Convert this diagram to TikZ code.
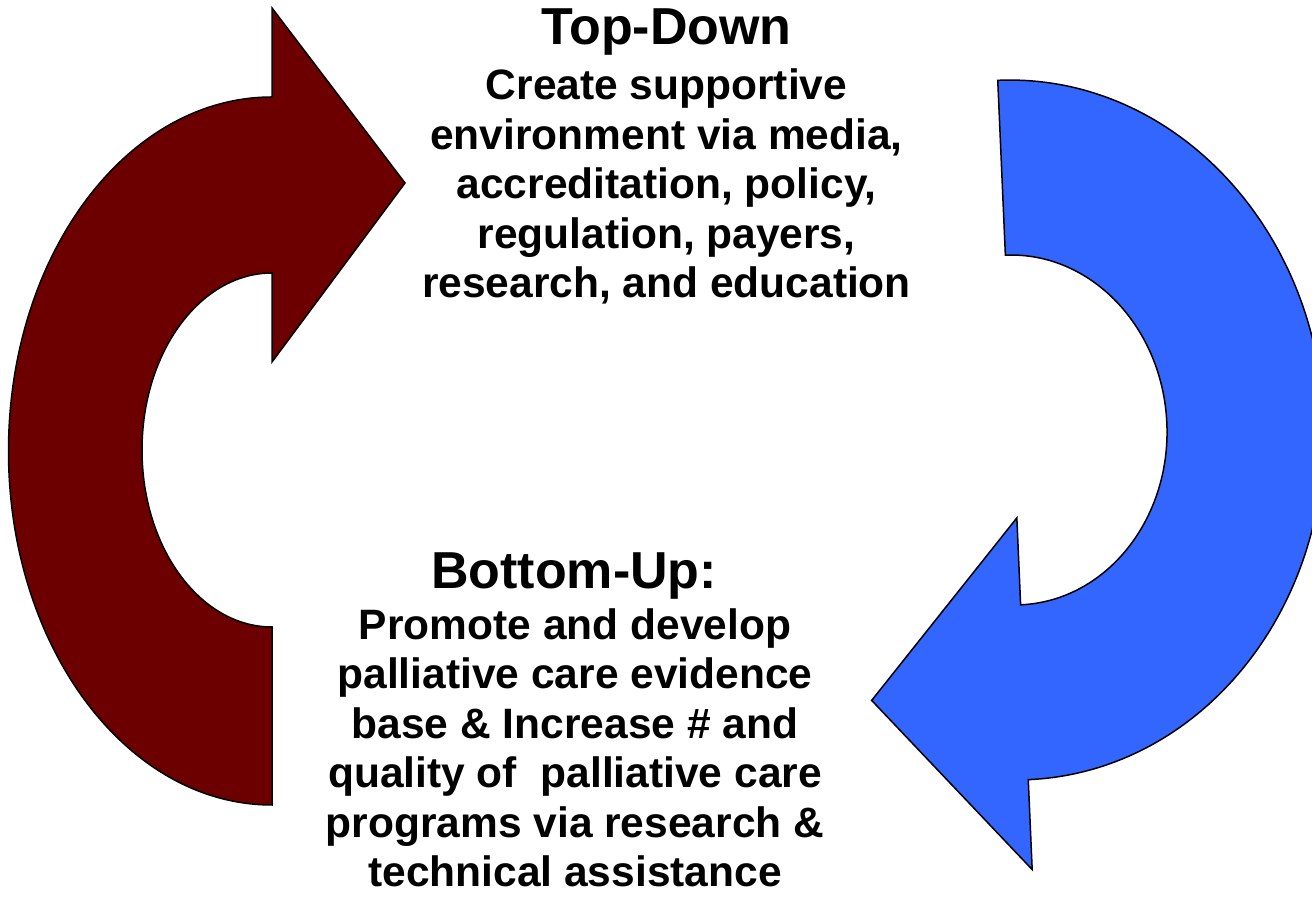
\documentclass[tikz,border=0pt]{standalone}
\usepackage{fontspec}
\setmainfont{Liberation Sans}
\usetikzlibrary{positioning}
\definecolor{loopred}{RGB}{108,0,0}
\definecolor{loopblue}{RGB}{51,102,255}

\begin{document}
\begin{tikzpicture}[x=1pt,y=1pt]

% set styles here
\tikzstyle{arrowshape}=[draw=black,line width=1.5pt,line join=miter]
\tikzstyle{heading}=[font=\fontsize{52}{60}\selectfont\bfseries,inner sep=0pt]
\tikzstyle{bodytext}=[font=\fontsize{42.5}{49.5}\selectfont\bfseries,align=center,inner sep=0pt]
%
\useasboundingbox (0,0) rectangle (1312,902);
\clip (0,0) rectangle (1312,902);

% left arrow, going up
\path[arrowshape,fill=loopred] (272,629) -- (272,540) -- (405,719) -- (272,894) -- (272,805)
      arc[start angle=90,end angle=270,x radius=263.5,y radius=354] -- (272,275)
      arc[start angle=270,end angle=90,x radius=130,y radius=177] -- cycle;

% right arrow, going down
\begin{scope}[shift={(1013,472)},rotate=2.5]
\path[arrowshape,fill=loopblue] (0,175) -- (0,350)
      arc[start angle=90,end angle=-90,x radius=311,y radius=350] -- (0,-440)
      -- (-153,-264) -- (0,-88) -- (0,-175)
      arc[start angle=-90,end angle=90,x radius=154,y radius=175] -- cycle;
\end{scope}

% base of a multi-line node = baseline of its last line
\node (topTitle) at (666.5,857) [heading,anchor=base] {Top-Down};
\node (topText) at (666.5,604) [bodytext,anchor=base] {Create supportive\\
      environment via media,\\ accreditation, policy,\\ regulation, payers,\\
      research, and education};

\node (bottomTitle) at (574,313.7) [heading,anchor=base] {Bottom-Up:};
\node (bottomText) at (575,15) [bodytext,anchor=base] {Promote and develop\\
      palliative care evidence\\ base \& Increase \# and\\ quality of~ palliative care\\
      programs via research \&\\ technical assistance};

\end{tikzpicture}
\end{document}
